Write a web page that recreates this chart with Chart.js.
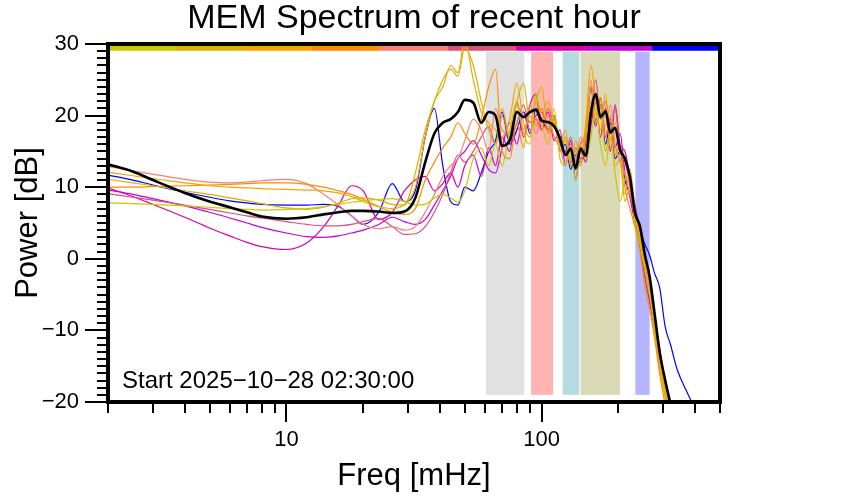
<!DOCTYPE html>
<html lang="en">
<head>
<meta charset="utf-8">
<title>MEM Spectrum of recent hour</title>
<script src="https://cdn.jsdelivr.net/npm/chart.js@4.4.0/dist/chart.umd.min.js"></script>
<style>
    html, body { margin: 0; padding: 0; background: #fff; }
</style>
</head>
<body>
<canvas id="spec" width="842" height="500"></canvas>
<script>
    // frequency grid [mHz], shared by all traces
    const freqs = [
        2, 2.5, 3, 4, 5, 6, 7, 8, 10, 12, 14, 16, 18, 20, 23, 26, 29,
        32, 35, 38, 41, 44, 47, 50, 54, 58, 62, 66, 70, 75, 80, 85, 90, 95,
        100, 106, 112, 118, 124, 130, 136, 142, 149, 156, 163, 170, 178, 186, 194, 203, 212,
        222, 232, 243, 254, 265, 277, 290, 305, 320, 340, 370, 400, 450, 500
    ];

    // mean spectrum (black)
    const meanPower = [
        13.2, 12.2, 11.0, 9.2, 8.0, 7.2, 6.5, 5.9, 5.6, 5.8, 6.2, 6.5, 6.7, 6.7, 6.6, 6.4, 6.6,
        8.5, 13.5, 17.5, 19.0, 19.5, 20.5, 22.2, 21.8, 19.0, 20.5, 20.0, 15.8, 16.5, 20.5, 19.8, 20.5, 20.8,
        19.3, 19.1, 18.5, 16.8, 14.5, 15.4, 12.6, 15.4, 14.4, 20.3, 23.0, 19.8, 20.6, 17.6, 18.3, 15.2, 14.0,
        11.4, 6.5, 4.5, 0.5, -2.5, -7.6, -13.0, -17.0, -20.3, -25, -30, -32, -34, -36
    ];

    // individual spectra, oldest (yellow) to newest (blue)
    const yellowPower = [
        7.8, 7.7, 7.6, 7.4, 7.2, 7.0, 6.9, 6.8, 6.9, 7.0, 7.3, 7.6, 7.9, 8.1, 8.3, 8.4, 8.0,
        7.5, 7.6, 8.5, 9.0, 8.5, 7.9, 9.5, 14.0, 15.5, 13.0, 16.0, 13.0, 18.0, 22.0, 17.5, 16.0, 23.0,
        19.0, 16.0, 21.0, 14.0, 13.0, 15.0, 11.0, 16.0, 14.0, 17.0, 21.0, 16.0, 13.0, 17.0, 12.0, 8.0, 11.0,
        12.0, 5.0, 2.0, -1.5, -5.0, -9.0, -14.0, -19.0, -23, -28, -32, -34, -36, -38
    ];
    const goldPower = [
        11.1, 10.6, 10.2, 9.5, 9.0, 8.5, 8.1, 7.7, 7.1, 6.9, 7.2, 7.8, 8.4, 8.5, 8.2, 7.6, 7.5,
        12.0, 18.0, 22.0, 25.0, 26.5, 25.5, 29.5, 27.0, 22.0, 18.0, 16.0, 21.0, 17.0, 22.0, 24.5, 19.0, 22.0,
        24.0, 18.0, 20.0, 15.0, 16.5, 14.0, 15.5, 13.5, 17.0, 22.0, 19.0, 21.5, 15.0, 18.0, 13.0, 14.0, 8.0,
        10.0, 6.0, 3.0, 0.0, -3.0, -8.0, -13.0, -18.0, -22, -27, -31, -34, -36, -38
    ];
    const orangePower = [
        12.1, 11.6, 11.2, 10.6, 10.2, 10.0, 9.9, 9.8, 9.7, 9.6, 9.5, 9.2, 8.7, 8.0, 7.3, 7.0, 7.6,
        10.0, 17.0, 22.0, 24.0, 27.0, 26.0, 30.5, 25.0, 20.5, 19.0, 18.0, 17.0, 19.5, 24.5, 19.0, 17.0, 22.5,
        20.5, 22.0, 19.0, 16.0, 18.0, 13.0, 16.5, 14.5, 19.0, 27.0, 22.0, 18.0, 23.0, 16.5, 19.0, 14.0, 9.0,
        12.5, 7.0, 3.0, -1.0, -4.5, -10.0, -15.0, -19.5, -24, -28, -32, -34, -36, -38
    ];
    const darkOrangePower = [
        10.0, 10.0, 10.1, 10.2, 10.3, 10.4, 10.5, 10.6, 10.6, 10.4, 10.0, 9.5, 9.0, 8.3, 7.3, 6.5, 6.2,
        7.0, 11.0, 13.5, 15.5, 17.0, 19.0, 17.5, 16.0, 19.5, 24.0, 26.5, 15.0, 14.0, 19.0, 15.5, 21.5, 18.5,
        21.0, 17.5, 19.5, 15.0, 17.0, 14.0, 15.0, 13.0, 18.0, 24.0, 20.0, 22.5, 17.0, 20.0, 14.5, 16.0, 10.0,
        7.0, 4.5, 1.0, -4.0, -7.0, -11.0, -16.0, -20.5, -25, -29, -32, -34, -36, -38
    ];
    const salmonPower = [
        12.9, 12.3, 11.8, 11.1, 10.7, 10.6, 10.7, 10.9, 11.1, 10.5, 9.0, 7.5, 6.0, 4.8, 4.2, 4.5, 4.0,
        4.5, 6.5, 9.0, 11.5, 13.0, 14.0, 16.5, 19.5, 18.0, 15.0, 21.0, 18.0, 17.5, 21.5, 18.0, 20.0, 17.5,
        19.5, 20.0, 17.0, 15.5, 13.0, 16.0, 14.0, 17.0, 15.5, 25.0, 19.0, 21.0, 18.5, 21.5, 16.0, 13.5, 12.0,
        9.0, 6.5, 3.0, -0.5, -4.0, -8.5, -13.5, -18.0, -22, -26, -30, -33, -35, -37
    ];
    const pinkPower = [
        9.1, 8.6, 8.2, 7.5, 6.9, 6.4, 6.0, 5.7, 5.2, 4.8, 4.6, 4.6, 4.8, 5.2, 5.6, 4.5, 3.4,
        3.5, 4.5, 6.5, 9.0, 12.0, 14.5, 13.5, 15.0, 17.0, 18.5, 16.0, 20.0, 17.0, 19.0, 21.5, 18.0, 19.5,
        18.0, 21.0, 18.5, 17.0, 14.5, 17.0, 13.5, 16.0, 17.5, 21.0, 25.0, 19.5, 22.0, 18.0, 21.0, 15.0, 13.5,
        10.0, 5.5, 2.0, -2.0, -5.5, -9.5, -14.0, -18.5, -23, -27, -31, -34, -36, -38
    ];
    const magentaPower = [
        9.9, 8.7, 7.6, 5.8, 4.3, 3.2, 2.3, 1.7, 1.3, 2.2, 4.5, 7.5, 10.2, 9.5, 5.5, 6.5, 9.5,
        11.0, 11.5, 9.5, 10.5, 12.0, 10.0, 13.0, 14.5, 11.5, 15.5, 13.0, 17.0, 15.0, 22.0, 17.0, 21.5, 23.0,
        18.0, 20.5, 16.5, 18.0, 13.0, 16.5, 11.0, 15.0, 13.5, 18.5, 22.0, 17.0, 21.0, 15.0, 21.5, 16.0, 15.0,
        11.5, 7.5, 4.0, -0.5, -4.0, -8.0, -12.5, -17.5, -22, -26, -30, -33, -35, -37
    ];
    const purplePower = [
        9.6, 9.0, 8.4, 7.4, 6.5, 5.7, 5.0, 4.4, 3.6, 3.1, 3.0, 3.2, 3.6, 4.0, 4.8, 5.8, 5.2,
        4.8, 5.5, 7.5, 9.5, 11.5, 14.0, 15.0, 16.5, 14.5, 12.5, 12.0, 15.5, 19.0, 16.0, 20.5, 19.0, 20.0,
        20.5, 18.0, 19.5, 16.0, 15.0, 13.5, 15.5, 14.0, 16.0, 21.0, 18.5, 22.5, 17.0, 19.5, 15.5, 17.5, 12.0,
        8.5, 5.0, 1.5, -2.5, -6.0, -10.0, -15.0, -19.0, -24, -28, -32, -34, -36, -38
    ];
    const bluePower = [
        11.7, 11.0, 10.3, 9.3, 8.6, 8.1, 7.8, 7.6, 7.5, 7.5, 7.6, 7.3, 6.0, 4.8, 6.5, 10.5, 8.0,
        9.5, 17.0, 21.0, 13.0, 8.0, 7.5, 10.0, 9.5, 12.0, 15.0, 16.5, 20.5, 16.0, 18.0, 20.5, 17.5, 21.0,
        19.5, 18.0, 20.0, 15.0, 16.0, 12.5, 14.5, 13.5, 17.0, 24.0, 19.0, 21.5, 16.0, 19.0, 14.0, 15.0, 11.0,
        9.0, 6.0, 4.0, 2.0, 0.5, -2.0, -4.0, -9.5, -12.0, -15.5, -18.5, -21, -24, -26
    ];

    const traces = [yellowPower, goldPower, orangePower, darkOrangePower, salmonPower,
                    pinkPower, magentaPower, purplePower, bluePower];
    const traceColors = ['#c8c800', '#dcb000', '#f5a500', '#ff8c00', '#fa8072',
                         '#dc5078', '#dc00aa', '#c800dc', '#0000ff'];

    // time-colour key along the top edge
    const keyEdges = [2, 3.69, 6.82, 12.6, 23.3, 43.0, 79.4, 146.7, 270.9, 500];
    const keyLevel = 29.4;

    // shaded frequency bands
    const bandStart = [60.5, 91, 121, 142, 233];
    const bandEnd = [85.5, 111, 140.5, 203, 265];
    const bandColors = ['#e1e1e1', '#ffb4b4', '#b4dce0', '#dadab6', '#b4b4ff'];
    const bandTop = 28.9, bandBottom = -19;

    const startLabel = 'Start 2025\u221210\u221228 02:30:00';

    const toXY = vals => vals.map((v, i) => ({ x: freqs[i], y: v }));

    const datasets = [{
        data: toXY(meanPower), borderColor: '#000', borderWidth: 2.6
    }];
    traces.forEach((t, i) => datasets.push({
        data: toXY(t), borderColor: traceColors[i], borderWidth: 1.2
    }));
    traceColors.forEach((c, i) => datasets.push({
        data: [{ x: keyEdges[i], y: keyLevel }, { x: keyEdges[i + 1], y: keyLevel }],
        borderColor: c, borderWidth: 5, borderCapStyle: 'butt', cubicInterpolationMode: 'default', tension: 0
    }));

    const decor = {
        id: 'decor',
        beforeDatasetsDraw(chart) {
            const { ctx, scales: { x, y } } = chart;
            ctx.save();
            bandStart.forEach((f0, i) => {
                const x0 = x.getPixelForValue(f0), x1 = x.getPixelForValue(bandEnd[i]);
                const y0 = y.getPixelForValue(bandTop), y1 = y.getPixelForValue(bandBottom);
                ctx.fillStyle = bandColors[i];
                ctx.fillRect(x0, y0, x1 - x0, y1 - y0);
            });
            ctx.restore();
        },
        afterDraw(chart) {
            const { ctx, chartArea: a, scales: { x, y } } = chart;
            ctx.save();
            ctx.strokeStyle = '#000';
            ctx.lineWidth = 2;
            ctx.beginPath();
            for (let v = -20; v <= 30; v++) {
                const py = Math.round(y.getPixelForValue(v));
                const len = v % 10 === 0 ? 23 : 11;
                ctx.moveTo(a.left - len, py);
                ctx.lineTo(a.left, py);
            }
            for (let k = 0; k <= 2; k++) {
                for (let m = 1; m <= 9; m++) {
                    const f = m * Math.pow(10, k);
                    if (f < 2 || f > 500) continue;
                    const px = Math.round(x.getPixelForValue(f));
                    const len = m === 1 ? 20 : 11;
                    ctx.moveTo(px, a.bottom);
                    ctx.lineTo(px, a.bottom + len);
                }
            }
            ctx.stroke();

            ctx.lineWidth = 4;
            ctx.strokeRect(a.left, a.top, a.right - a.left, a.bottom - a.top);

            ctx.fillStyle = '#000';
            ctx.font = '24px "Liberation Sans", Arial, sans-serif';
            ctx.textBaseline = 'alphabetic';
            ctx.fillText(startLabel, a.left + 14, a.bottom - 14);
            ctx.restore();
        }
    };

    Chart.defaults.font.family = '"Liberation Sans", Arial, sans-serif';
    Chart.defaults.color = '#000';

    new Chart(document.getElementById('spec'), {
        type: 'line',
        data: { datasets: datasets },
        options: {
            responsive: false,
            animation: false,
            events: [],
            layout: { padding: { left: 0, right: 122, top: 0, bottom: 0 } },
            elements: {
                point: { radius: 0 },
                line: { cubicInterpolationMode: 'monotone' }
            },
            plugins: {
                legend: { display: false },
                tooltip: { enabled: false },
                title: {
                    display: true,
                    fullSize: false,
                    text: 'MEM Spectrum of recent hour',
                    font: { size: 34, weight: 'normal', lineHeight: 1.1 },
                    padding: { top: 0, bottom: 6.6 },
                    color: '#000'
                }
            },
            scales: {
                x: {
                    type: 'logarithmic',
                    min: 2,
                    max: 500,
                    grid: { display: false, drawTicks: false },
                    border: { display: false },
                    ticks: {
                        autoSkip: false,
                        maxRotation: 0,
                        padding: 25,
                        font: { size: 22 },
                        callback: v => (v === 10 || v === 100) ? String(v) : ''
                    },
                    title: {
                        display: true,
                        text: 'Freq [mHz]',
                        font: { size: 31, lineHeight: 1.2 },
                        padding: { top: 0, bottom: 5.4 }
                    },
                    afterFit: s => { s.height = 98; }
                },
                y: {
                    min: -20,
                    max: 30,
                    grid: { display: false, drawTicks: false },
                    border: { display: false },
                    ticks: {
                        stepSize: 10,
                        padding: 29,
                        font: { size: 22 },
                        callback: v => v < 0 ? '\u2212' + (-v) : String(v)
                    },
                    title: {
                        display: true,
                        text: 'Power [dB]',
                        font: { size: 31, lineHeight: 1.2 },
                        padding: { top: 9.4, bottom: 0 }
                    },
                    afterFit: s => { s.width = 108; }
                }
            }
        },
        plugins: [decor]
    });
</script>
</body>
</html>
